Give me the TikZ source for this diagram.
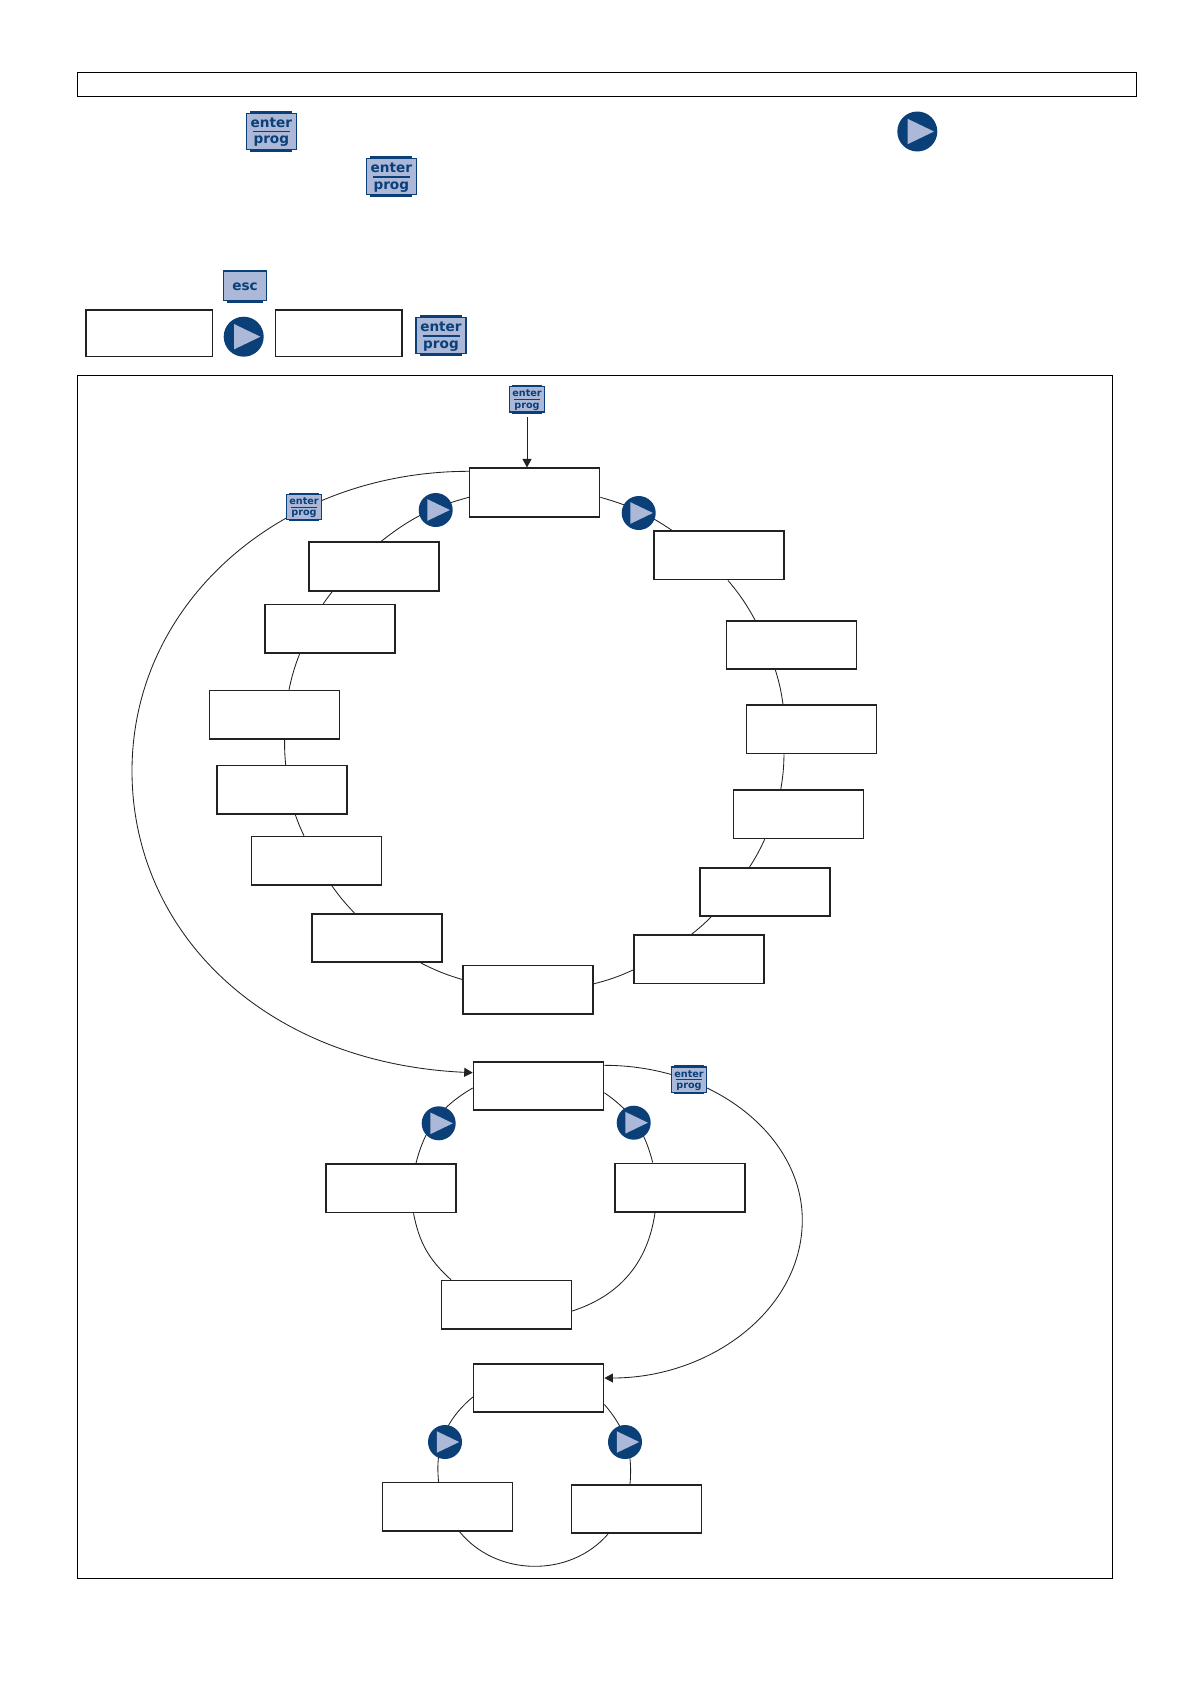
\documentclass[tikz,border=0pt]{standalone}
\usepackage{fontspec}
\setmainfont{DejaVu Sans}
\usetikzlibrary{arrows.meta}
\definecolor{btndark}{HTML}{0A3F78}
\definecolor{btnlight}{HTML}{ABB8D8}
\definecolor{ink}{HTML}{222222}
\tikzset{
  lcd/.style={draw=ink,line width=1.6pt,fill=white,inner sep=0pt,minimum width=130pt,minimum height=48.5pt},
  frameb/.style={draw=black,line width=.9pt,fill=none},
  wire/.style={draw=ink,line width=.85pt},
  arrowwire/.style={wire,-{Triangle[length=8.5pt,width=9pt]}},
  btnbody/.style={draw=btndark,line width=1.3pt,fill=btnlight,inner sep=0pt},
  btntext/.style={text=btndark,inner sep=0pt,anchor=base},
  playc/.style={circle,fill=btndark,inner sep=0pt},
}
% name, cx, cy, scale
\newcommand{\enterbtn}[4]{%
  \pgfmathsetmacro{\btnfs}{13.6*#4}%
  \fill[btndark,shift={(#2,#3)},scale=#4] (-21,-20.4) rectangle (21,20.4);
  \node[btnbody,minimum width={50*#4 pt},minimum height={36*#4 pt}] (#1) at (#2,#3) {};
  \draw[btndark,line width={1.3*#4 pt},shift={(#2,#3)},scale=#4] (-18.5,.3) -- (18.5,.3);
  \node[btntext,font=\bfseries\fontsize{\btnfs}{15}\selectfont] (#1e) at ([yshift={3.8*#4 pt}]#1.center) {enter};
  \node[btntext,font=\bfseries\fontsize{\btnfs}{15}\selectfont] (#1p) at ([yshift={-12.6*#4 pt}]#1.center) {prog};
}
\newcommand{\playbtn}[4]{%
  \node[playc,minimum size={40*#4 pt}] (#1) at (#2,#3) {};
  \fill[btnlight,shift={(#1.center)},scale=#4] (-9.7,-12.7) -- (-9.7,12.7) -- (16.7,0) -- cycle;
}
\begin{document}
\begin{tikzpicture}[x=1pt,y=-1pt]
\useasboundingbox (0,0) rectangle (1190,1684);
\fill[white] (0,0) rectangle (1190,1684);
% frames
\node[frameb,inner sep=0pt,minimum width=1058.7pt,minimum height=24pt] (topbar) at (606.6,84.3) {};
\node[frameb,inner sep=0pt,minimum width=1035.4pt,minimum height=1203pt] (mainframe) at (595,977.4) {};
% top row boxes
\node[lcd,minimum width=126.6pt,minimum height=46.6pt] (sA) at (149,333) {};
\node[lcd,minimum width=126.4pt,minimum height=46.6pt] (sB) at (338.5,333) {};
% main ring boxes
\node[lcd] (b1) at (534.6,492.5) {};
\node[lcd] (r0) at (719,555.4) {};
\node[lcd] (r1) at (791.5,645) {};
\node[lcd] (r2) at (811.4,729.3) {};
\node[lcd] (r3) at (798.5,814.2) {};
\node[lcd] (r4) at (765,892) {};
\node[lcd] (r5) at (698.8,959.2) {};
\node[lcd] (bt) at (528,989.7) {};
\node[lcd] (l5) at (377,938) {};
\node[lcd] (l4) at (316.3,860.8) {};
\node[lcd] (l3) at (282,789.9) {};
\node[lcd] (l2) at (274.4,714.8) {};
\node[lcd] (l1) at (330.2,628.8) {};
\node[lcd] (l0) at (374.2,566.5) {};
% second ring boxes
\node[lcd] (c1) at (538.5,1086) {};
\node[lcd] (c2) at (390.9,1188.2) {};
\node[lcd] (c3) at (679.7,1187.6) {};
\node[lcd] (c4) at (506.4,1304.8) {};
% third ring boxes
\node[lcd] (d1) at (538.6,1388) {};
\node[lcd] (d2) at (447.3,1506.8) {};
\node[lcd] (d3) at (636.3,1509) {};
% main ring connectors
\draw[wire] (b1.east |- 0,497.3) to[bend left=9] (672,0 |- r0.north);
\draw[wire] (728,0 |- r0.south) to[bend left=5.6] (755,0 |- r1.north);
\draw[wire] (775.4,0 |- r1.south) to[bend left=4.4] (783,0 |- r2.north);
\draw[wire] (784,0 |- r2.south) to[bend left=4.3] (780.8,0 |- r3.north);
\draw[wire] (764.7,0 |- r3.south) to[bend left=3.9] (749.6,0 |- r4.north);
\draw[wire] (711,0 |- r4.south) to[bend left=3] (691.7,0 |- r5.north);
\draw[wire] (r5.west |- 0,970) to[bend left=5] (bt.east |- 0,983.8);
\draw[wire] (bt.west |- 0,979.5) to[bend left=5] (421,0 |- l5.south);
\draw[wire] (354.4,0 |- l5.north) to[bend left=4] (331.9,0 |- l4.south);
\draw[wire] (304,0 |- l4.north) to[bend left=3] (295.4,0 |- l3.south);
\draw[wire] (285.7,0 |- l3.north) to[bend left=3] (284.6,0 |- l2.south);
\draw[wire] (289,0 |- l2.north) to[bend left=4.5] (299.6,0 |- l1.south);
\draw[wire] (323.3,0 |- l1.north) to[bend left=2] (332.3,0 |- l0.south);
\draw[wire] (381,0 |- l0.north) to[bend left=11.5] (b1.west |- 0,497.3);
% outer loops
\coordinate (w1) at (132,771);
\coordinate (e1) at (802.3,1220);
\draw[arrowwire] (b1.west |- 0,471.3) .. controls (284,471.3) and (132,600) .. (w1)
   .. controls (132,931) and (263,1063) .. (c1.west |- 0,1072.7);
\draw[arrowwire] (c1.east |- 0,1065.3) .. controls (714,1065.3) and (802.3,1136) .. (e1)
   .. controls (802.3,1310) and (710,1378) .. (d1.east |- 0,1378);
% second ring connectors
\draw[wire] (c1.west |- 0,1088) to[bend right=22.8] (416,0 |- c2.north);
\draw[wire] (c1.east |- 0,1092.7) to[bend left=20.6] (652.7,0 |- c3.north);
\draw[wire] (413.5,0 |- c2.south) to[bend right=18.4] (451,0 |- c4.north);
\draw[wire] (655,0 |- c3.south) to[bend left=32] (c4.east |- 0,1311);
% third ring connectors
\draw[wire] (d1.west |- 0,1397) to[bend right=28] (438.6,0 |- d2.north);
\draw[wire] (d1.east |- 0,1404.5) to[bend left=23] (630,0 |- d3.north);
\draw[wire] (459.7,0 |- d2.south) to[bend right=50] (608,0 |- d3.south);
% buttons at the top
\enterbtn{ba}{271.3}{131.3}{1}
\enterbtn{bb}{391.3}{176.7}{1}
\enterbtn{bc}{441}{335.7}{1}
\playbtn{pa}{917.3}{131.5}{1}
\playbtn{pb}{243.7}{336.7}{1}
\fill[btndark] (227,300) rectangle (262.5,303);
\node[btnbody,minimum width=43.5pt,minimum height=29.5pt] (esc) at (245,285.7) {};
\node[btntext,font=\bfseries\fontsize{13.6}{15}\selectfont] (esct) at ([yshift=-4.5pt]esc.center) {esc};
% small buttons
\enterbtn{be}{527}{399.3}{.71}
\enterbtn{bf}{304}{507}{.71}
\enterbtn{bg}{689}{1079.7}{.71}
\draw[arrowwire] ([yshift=-4.5pt]be.south) -- (be.south |- b1.north);
% play buttons on rings
\playbtn{p1}{435.7}{510}{.85}
\playbtn{p2}{638.7}{513}{.85}
\playbtn{p3}{438.7}{1123.3}{.85}
\playbtn{p4}{633.7}{1122.7}{.85}
\playbtn{p5}{445}{1442}{.85}
\playbtn{p6}{625}{1442}{.85}
\end{tikzpicture}
\end{document}
